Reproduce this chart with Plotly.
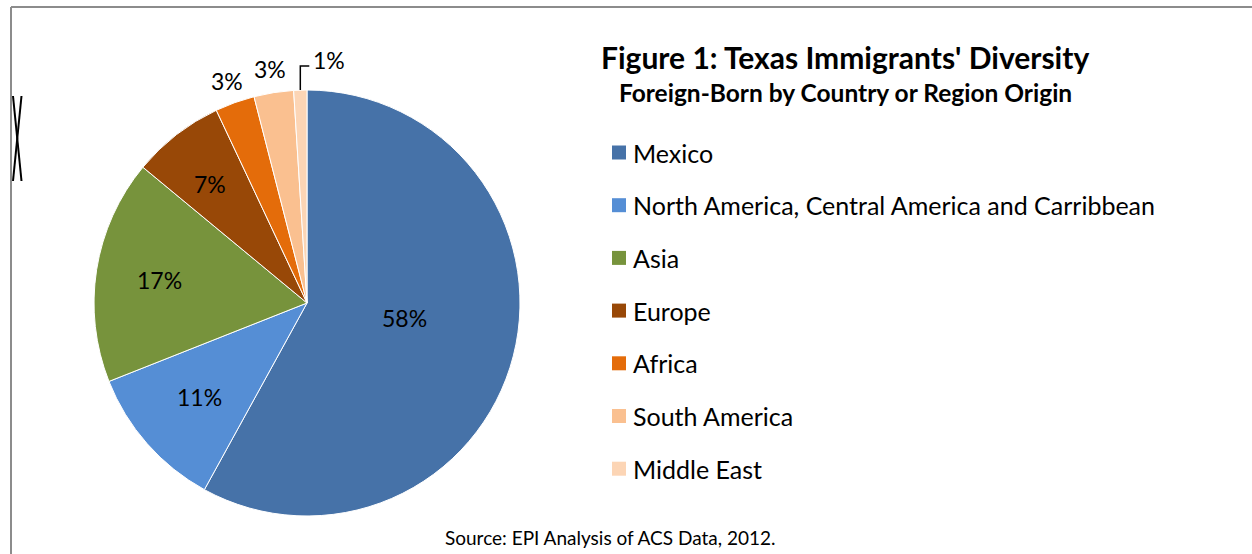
import math
import plotly.graph_objects as go

# Share of Texas foreign-born population by origin (percent)
regions = ["Mexico", "North America, Central America and Carribbean", "Asia",
           "Europe", "Africa", "South America", "Middle East"]
shares = [58, 11, 17, 7, 3, 3, 1]
slice_colors = ["#4672A8", "#558ED5", "#77933C", "#984807", "#E46C0A", "#FAC090", "#FCD5B5"]

title_text = "Figure 1: Texas Immigrants' Diversity"
subtitle_text = "Foreign-Born by Country or Region Origin"
source_text = "Source: EPI Analysis of ACS Data, 2012."

W, H = 1252, 554
FONT = "Lato, Carlito, Calibri, sans-serif"

# Radial placement of each data label, as a fraction of the pie radius,
# plus a small pixel nudge (dx, dy)
label_radius = [0.46, 0.67, 0.70, 0.72, 1.11, 1.11, None]
label_nudge = [(3, -9), (0, 0), (0, 0), (-3, 2), (0, 0), (0, 0), (0, 0)]


def px(x):
    return x / W


def py(y):
    return 1 - y / H


fig = go.Figure()

# Pie centred at (307, 303) px with radius ~213 px
cx, cy, R = 307, 303, 213
fig.add_trace(go.Pie(
    labels=regions,
    values=shares,
    sort=False,
    direction="clockwise",
    rotation=0,
    marker=dict(colors=slice_colors, line=dict(color="white", width=1)),
    textinfo="none",
    showlegend=False,
    hoverinfo="label+percent",
    domain=dict(x=[px(cx - R), px(cx + R)], y=[py(cy + R), py(cy - R)]),
))

annotations = [
    dict(text=f"<b>{title_text}</b>", x=px(845), y=py(57), xref="paper", yref="paper",
         xanchor="center", yanchor="middle", showarrow=False,
         font=dict(family=FONT, size=30, color="black")),
    dict(text=f"<b>{subtitle_text}</b>", x=px(845), y=py(92), xref="paper", yref="paper",
         xanchor="center", yanchor="middle", showarrow=False,
         font=dict(family=FONT, size=24.5, color="black")),
    dict(text=source_text, x=px(610), y=py(537), xref="paper", yref="paper",
         xanchor="center", yanchor="middle", showarrow=False,
         font=dict(family=FONT, size=19, color="black")),
]

shapes = []

# Data labels placed along each slice's mid-angle
total = sum(shares)
cum = 0
label_font = dict(family=FONT, size=23, color="black")
for v, rf, (ndx, ndy) in zip(shares, label_radius, label_nudge):
    mid = 2 * math.pi * (cum + v / 2) / total
    cum += v
    sx, sy = math.sin(mid), -math.cos(mid)
    if rf is not None:
        annotations.append(dict(text=f"{v}%",
                                x=px(cx + rf * R * sx + ndx), y=py(cy + rf * R * sy + ndy),
                                xref="paper", yref="paper", xanchor="center", yanchor="middle",
                                showarrow=False, font=label_font))
    else:
        # Elbow leader line from the slice edge up and to the right
        ex, ey = cx + R * sx, cy + R * sy
        ky = ey - 24
        kx = ex + 9
        shapes.append(dict(type="path", xref="paper", yref="paper",
                           path=f"M {px(ex)} {py(ey)} L {px(ex)} {py(ky)} L {px(kx)} {py(ky)}",
                           line=dict(color="black", width=1.5)))
        annotations.append(dict(text=f"{v}%", x=px(kx + 2), y=py(ky - 6),
                                xref="paper", yref="paper", xanchor="left", yanchor="middle",
                                showarrow=False, font=label_font))

# Legend: colour swatch plus label for each region
legend_top, legend_step = 152.5, 52.7
for i, (name, col) in enumerate(zip(regions, slice_colors)):
    yc = legend_top + i * legend_step
    shapes.append(dict(type="rect", xref="paper", yref="paper",
                       x0=px(612), x1=px(626), y0=py(yc + 7), y1=py(yc - 7),
                       fillcolor=col, line=dict(width=0)))
    annotations.append(dict(text=name, x=px(631), y=py(yc), xref="paper", yref="paper",
                            xanchor="left", yanchor="middle", showarrow=False,
                            font=dict(family=FONT, size=25, color="black")))

# Chart-area frame (top and left edges)
frame = "#8c8c8c"
shapes.append(dict(type="line", xref="paper", yref="paper",
                   x0=px(11), x1=1, y0=py(7), y1=py(7), line=dict(color=frame, width=2)))
shapes.append(dict(type="line", xref="paper", yref="paper",
                   x0=px(11), x1=px(11), y0=py(7), y1=0, line=dict(color=frame, width=2)))
# Crossed marker on the left edge
shapes.append(dict(type="line", xref="paper", yref="paper",
                   x0=px(13), x1=px(21.5), y0=py(96), y1=py(181), line=dict(color="black", width=2)))
shapes.append(dict(type="line", xref="paper", yref="paper",
                   x0=px(21.5), x1=px(13), y0=py(96), y1=py(181), line=dict(color="black", width=2)))

fig.update_layout(
    width=W, height=H,
    margin=dict(l=0, r=0, t=0, b=0),
    paper_bgcolor="white",
    plot_bgcolor="white",
    annotations=annotations,
    shapes=shapes,
    font=dict(family=FONT),
)

fig.write_html("out.html")
